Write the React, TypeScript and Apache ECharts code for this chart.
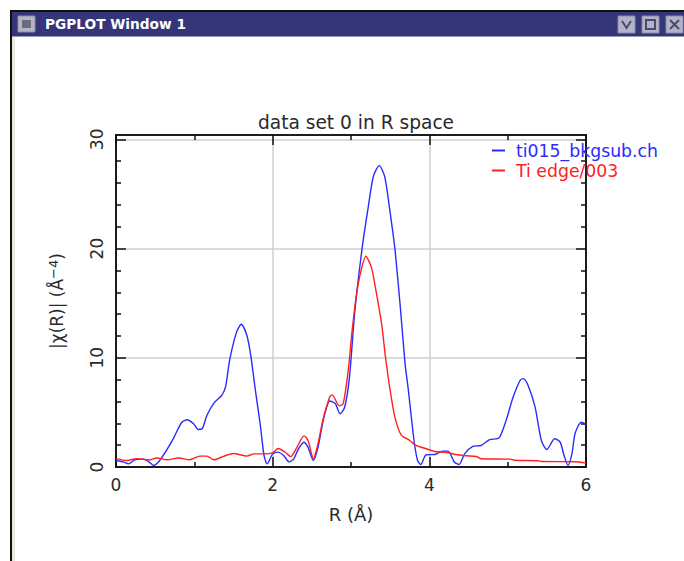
import React, { useEffect, useRef } from "react";
import * as echarts from "echarts";

const blueR = [0,0.09,0.16,0.24,0.35,0.42,0.48,0.55,0.63,0.73,0.84,0.91,0.99,1.05,1.1,1.16,1.25,1.35,1.4,1.45,1.54,1.6,1.67,1.72,1.78,1.84,1.89,1.93,2.0,2.07,2.14,2.21,2.27,2.33,2.4,2.45,2.52,2.58,2.65,2.73,2.8,2.86,2.92,2.98,3.05,3.145,3.22,3.285,3.36,3.43,3.49,3.56,3.63,3.69,3.73,3.77,3.81,3.85,3.89,3.96,4.07,4.17,4.24,4.32,4.38,4.45,4.555,4.66,4.77,4.89,4.98,5.07,5.16,5.2,5.26,5.35,5.43,5.5,5.6,5.67,5.72,5.77,5.82,5.86,5.94,6];
const blueChi = [0.6,0.47,0.29,0.66,0.72,0.47,0.14,0.53,1.36,2.58,4.1,4.33,3.96,3.44,3.5,4.72,5.85,6.56,7.38,9.77,12.37,13.07,12.06,10.23,7.0,3.96,1.05,0.29,1.2,1.36,1.05,0.47,0.75,1.67,2.27,1.82,0.6,1.82,4.42,6.04,5.8,4.88,5.49,8.2,14.35,20.2,23.8,26.6,27.6,26.6,23.8,20.0,14.6,9.47,7.17,4.57,2.13,0.6,0.23,1.12,1.15,1.45,1.45,0.44,0.23,1.2,1.88,1.97,2.5,2.67,4.27,6.4,7.94,8.09,7.48,5.49,2.43,1.6,2.59,2.27,1.05,0.14,1.2,3.05,4.1,3.9];
const redR = [0,0.14,0.26,0.43,0.52,0.65,0.8,0.94,1.07,1.16,1.25,1.38,1.5,1.67,1.76,1.89,2.0,2.07,2.16,2.23,2.31,2.4,2.45,2.52,2.58,2.64,2.73,2.76,2.85,2.9,2.965,3.01,3.06,3.11,3.19,3.26,3.31,3.39,3.44,3.5,3.56,3.64,3.75,3.81,3.96,4.07,4.22,4.33,4.47,4.6,4.66,5.03,5.09,5.39,5.43,5.88,6];
const redChi = [0.77,0.6,0.77,0.66,0.83,0.66,0.83,0.66,1.0,1.0,0.66,1.0,1.24,1.0,1.2,1.2,1.3,1.7,1.35,0.95,1.8,2.85,2.45,0.77,2.15,4.27,6.45,6.6,5.6,5.8,8.85,12.2,15.27,17.4,19.3,18.3,16.5,13.15,10.07,7.0,4.57,2.95,2.43,2.06,1.67,1.42,1.33,1.15,1.03,0.96,0.75,0.72,0.62,0.57,0.5,0.48,0.35];

const blueName = "ti015_bkgsub.ch";
const redName = "Ti edge/003";
const xMajor = [0, 2, 4, 6];
const xMinor = [1, 3, 5];
const yMajor = [0, 10, 20, 30];
const yMinor = [2, 4, 6, 8, 12, 14, 16, 18, 22, 24, 26, 28];
const plotFont = "DejaVu Sans";
const ink = "#2a2a2a";
const gridGray = "#cfcfcf";
const blue = "#2b2bff";
const red = "#ff2020";

const toPairs = (xs: number[], ys: number[]) => xs.map((x, i) => [x, ys[i]]);

export default function App() {
  const ref = useRef<HTMLDivElement>(null);
  useEffect(() => {
    document.body.style.margin = "0";
    const chart = echarts.init(ref.current!, undefined, { renderer: "svg" });
    const baseAxis = {
      axisLine: { show: true, onZero: false, lineStyle: { color: "#111", width: 1.5 } },
      splitLine: { show: false },
      minorSplitLine: { show: false },
    };
    const majorTick = { show: true, inside: true, length: 10, lineStyle: { color: "#111", width: 1.5 } };
    const minorTick = { show: true, inside: true, length: 5, lineStyle: { color: "#111", width: 1.5 } };
    const xPair = (position: string, labels: boolean, ticks: number[], tick: any) => ({
      ...baseAxis,
      type: "value",
      gridIndex: 0,
      position,
      min: 0,
      max: 6,
      axisTick: { ...tick, customValues: ticks },
      axisLabel: labels
        ? { show: true, customValues: xMajor, color: ink, fontFamily: plotFont, fontSize: 17, margin: 9 }
        : { show: false },
    });
    const yPair = (position: string, labels: boolean, ticks: number[], tick: any) => ({
      ...baseAxis,
      type: "value",
      gridIndex: 0,
      position,
      min: 0,
      max: 30.4,
      axisTick: { ...tick, customValues: ticks },
      axisLabel: labels
        ? { show: true, rotate: 90, customValues: yMajor, color: ink, fontFamily: plotFont, fontSize: 17, margin: 11 }
        : { show: false },
    });
    const xAxes: any[] = [
      { ...xPair("bottom", true, xMajor, majorTick),
        name: "R (Å)", nameLocation: "middle", nameGap: 38,
        nameTextStyle: { color: ink, fontFamily: plotFont, fontSize: 18 } },
      xPair("top", false, xMajor, majorTick),
      xPair("bottom", false, xMinor, minorTick),
      xPair("top", false, xMinor, minorTick),
      { type: "value", gridIndex: 0, min: 0, max: 6, interval: 2, axisLine: { show: false }, axisTick: { show: false },
        axisLabel: { show: false }, splitLine: { show: true, lineStyle: { color: gridGray, width: 1.5 } } },
    ];
    const yAxes: any[] = [
      { ...yPair("left", true, yMajor, majorTick),
        name: "{a||χ(R)| (Å}{b|−4}{a|)}", nameLocation: "middle", nameGap: 50, nameRotate: 90,
        nameTextStyle: { rich: {
          a: { color: ink, fontFamily: plotFont, fontSize: 17 },
          b: { color: ink, fontFamily: plotFont, fontSize: 13, verticalAlign: "bottom", padding: [0, 0, 6, 0] },
        } } },
      yPair("right", false, yMajor, majorTick),
      yPair("left", false, yMinor, minorTick),
      yPair("right", false, yMinor, minorTick),
      { type: "value", gridIndex: 0, min: 0, max: 30.4, interval: 10, axisLine: { show: false }, axisTick: { show: false },
        axisLabel: { show: false }, splitLine: { show: true, lineStyle: { color: gridGray, width: 1.5 } } },
    ];
    const btnFill = "#b3b3c8";
    const btnStroke = "#8a8aa6";
    const glyph = "#4a4a6e";
    chart.setOption({
      animation: false,
      backgroundColor: "#fff",
      title: {
        text: "data set 0 in R space",
        left: 351,
        textAlign: "center",
        top: 108,
        textStyle: { color: ink, fontFamily: plotFont, fontSize: 18.6, fontWeight: "normal" },
      },
      legend: {
        orient: "vertical",
        left: 487,
        top: 137,
        itemWidth: 13,
        itemHeight: 2,
        itemGap: 3,
        icon: "rect",
        data: [
          { name: blueName, itemStyle: { color: blue }, textStyle: { color: blue } },
          { name: redName, itemStyle: { color: red }, textStyle: { color: red } },
        ],
        textStyle: { fontFamily: plotFont, fontSize: 17.3, padding: [0, 0, 0, 6] },
      },
      grid: { left: 116, top: 135, width: 470, height: 332, containLabel: false },
      xAxis: xAxes,
      yAxis: yAxes,
      series: [
        { name: blueName, type: "line", data: toPairs(blueR, blueChi), showSymbol: false, smooth: 0.25, clip: false,
          lineStyle: { color: blue, width: 1.4 }, itemStyle: { color: blue }, z: 3 },
        { name: redName, type: "line", data: toPairs(redR, redChi), showSymbol: false, smooth: 0.25, clip: false,
          lineStyle: { color: red, width: 1.4 }, itemStyle: { color: red }, z: 4 },
      ],
      graphic: [
        { type: "rect", shape: { x: 10, y: 10, width: 2, height: 551 }, style: { fill: "#111" }, silent: true },
        { type: "rect", shape: { x: 12, y: 37, width: 3, height: 524 }, style: { fill: "#ece6e0" }, silent: true },
        { type: "rect", shape: { x: 10, y: 10, width: 674, height: 2 }, style: { fill: "#111" }, silent: true },
        { type: "rect", shape: { x: 12, y: 12, width: 672, height: 24.5 }, style: { fill: "#35357a" }, silent: true },
        { type: "rect", shape: { x: 18, y: 16, width: 17, height: 16 }, style: { fill: "#b5b5c4", stroke: "#8a8aa6", lineWidth: 1 }, silent: true },
        { type: "rect", shape: { x: 22, y: 20, width: 9, height: 8 }, style: { fill: "#6a6a80" }, silent: true },
        { type: "text", x: 45, y: 24, style: { text: "PGPLOT Window 1", fill: "#fff", font: "bold 13.7px 'DejaVu Sans'", textVerticalAlign: "middle" }, silent: true },
        { type: "rect", shape: { x: 618, y: 16, width: 17, height: 17 }, style: { fill: btnFill, stroke: btnStroke, lineWidth: 1 }, silent: true },
        { type: "polyline", shape: { points: [[622, 21], [626.5, 28], [631, 21]] }, style: { fill: "none", stroke: glyph, lineWidth: 2 }, silent: true },
        { type: "rect", shape: { x: 642, y: 16, width: 17, height: 17 }, style: { fill: btnFill, stroke: btnStroke, lineWidth: 1 }, silent: true },
        { type: "rect", shape: { x: 646, y: 20, width: 9, height: 9 }, style: { fill: "none", stroke: glyph, lineWidth: 2 }, silent: true },
        { type: "rect", shape: { x: 666, y: 16, width: 17, height: 17 }, style: { fill: btnFill, stroke: btnStroke, lineWidth: 1 }, silent: true },
        { type: "line", shape: { x1: 670, y1: 20, x2: 679, y2: 29 }, style: { stroke: glyph, lineWidth: 2 }, silent: true },
        { type: "line", shape: { x1: 679, y1: 20, x2: 670, y2: 29 }, style: { stroke: glyph, lineWidth: 2 }, silent: true },
      ],
    });
    return () => chart.dispose();
  }, []);
  return <div ref={ref} style={{ width: 684, height: 561 }} />;
}
